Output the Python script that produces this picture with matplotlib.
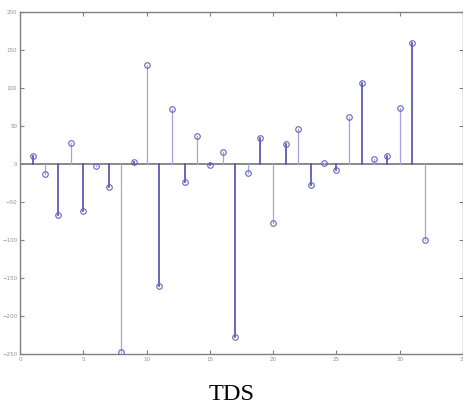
import matplotlib
matplotlib.use("Agg")
import matplotlib.pyplot as plt
import numpy as np

n = list(range(1, 33))
values = [10, -13, -67, 27, -62, -3, -30, -248, 2, 130, -160, 73, -24, 37, -1, 16,
          -227, -12, 34, -78, 26, 46, -27, 1, -8, 62, 106, 7, 10, 74, 159, -100]
xticks = [0, 5, 10, 15, 20, 25, 30, 35]
yticks = [-250, -200, -150, -100, -50, 0, 50, 100, 150, 200]
title = "TDS"

fig = plt.figure(figsize=(4.64, 4.13), dpi=100)
ax = fig.add_axes([20/464, (413-354)/413, 443/464, 342/413])

for xi, vi in zip(n, values):
    if xi % 2 == 1:
        c, lw = "#5c5cb8", 1.3
    else:
        c, lw = "#a4a4dc", 0.9
    ax.plot([xi, xi], [0, vi], color=c, lw=lw, zorder=2)
ax.plot(n, values, linestyle="none", marker="o", markersize=4.0,
        markerfacecolor="none", markeredgecolor="#6464bc", markeredgewidth=0.8, zorder=3)
ax.axhline(0, color="#808080", lw=1.3, zorder=1)

ax.set_xlim(0, 35)
ax.set_ylim(-250, 200)
ax.set_xticks(xticks)
ax.set_yticks(yticks)
ax.tick_params(direction="in", length=3, width=0.8, colors="#808080",
               labelsize=4, labelcolor="#909090", top=True, right=True, pad=2)
for s in ax.spines.values():
    s.set_color("#808080")
    s.set_linewidth(1.0)

fig.text(0.5, (413-395)/413, title, ha="center", va="center",
         family="Liberation Serif", fontsize=17.5, color="black")

fig.savefig("out.png", dpi=100)
